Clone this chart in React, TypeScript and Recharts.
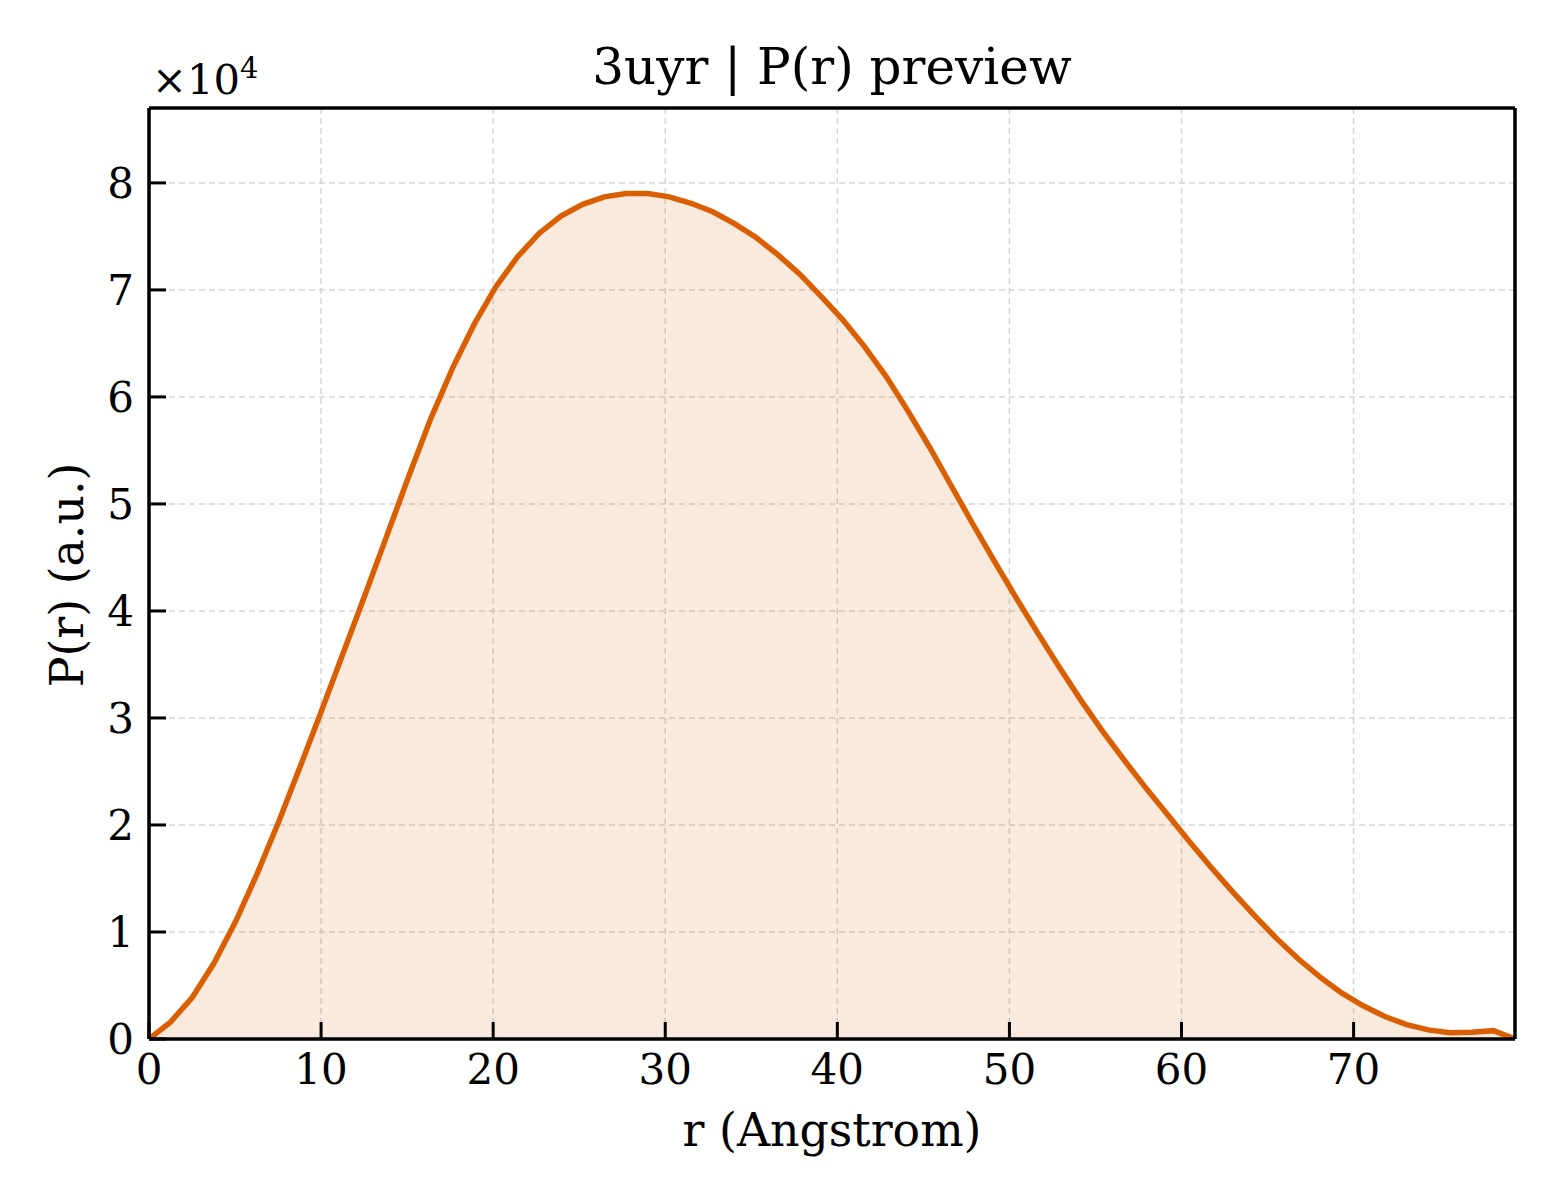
import React from "react";
import { ComposedChart, Area, XAxis, YAxis, CartesianGrid, Customized } from "recharts";

// r values (Angstrom) and P(r)
const rValues = [
  0, 1.26, 2.52, 3.78, 5.04, 6.3, 7.56, 8.82, 10.08, 11.34, 12.6, 13.86, 15.12, 16.38, 17.64, 18.9,
  20.16, 21.42, 22.68, 23.94, 25.2, 26.46, 27.72, 28.98, 30.24, 31.5, 32.76, 34.02, 35.28, 36.54, 37.8,
  39.06, 40.32, 41.58, 42.84, 44.1, 45.36, 46.62, 47.88, 49.14, 50.4, 51.66, 52.92, 54.18, 55.44, 56.7,
  57.96, 59.22, 60.48, 61.74, 63.0, 64.26, 65.52, 66.78, 68.04, 69.3, 70.56, 71.82, 73.08, 74.34, 75.6,
  76.86, 78.12, 79.38,
];

const prValues = [
  0, 1600, 3900, 7100, 11000, 15500, 20400, 25600, 30900, 36300,
  41700, 47200, 52700, 58000, 62700, 66800, 70300, 73100, 75300, 76900,
  78000, 78700, 79000, 79000, 78700, 78100, 77300, 76200, 74900, 73300,
  71500, 69400, 67200, 64700, 61900, 58700, 55300, 51700, 48100, 44600,
  41200, 37900, 34700, 31600, 28700, 26000, 23400, 20900, 18400, 16000,
  13700, 11500, 9400, 7500, 5800, 4300, 3100, 2100, 1350, 850,
  580, 630, 780, 0,
];

const xTicks = [0, 10, 20, 30, 40, 50, 60, 70];
const yTicks = [0, 10000, 20000, 30000, 40000, 50000, 60000, 70000, 80000];

const data = rValues.map((r, i) => ({ r, p: prValues[i] }));

const FONT = "'DejaVu Serif', serif";
const LINE = "#d95f02";

const tickStyle = { fontFamily: FONT, fontSize: 42, fill: "#000" };
const frame = { stroke: "#000", strokeWidth: 3.5 };
const tickMark = { stroke: "#000", strokeWidth: 3 };

function Texts() {
  return (
    <g fontFamily={FONT} fill="#000">
      <text x={832} y={84} fontSize={50} textAnchor="middle">3uyr | P(r) preview</text>
      <text x={832} y={1146} fontSize={45.8} textAnchor="middle">r (Angstrom)</text>
      <text x={83} y={575} fontSize={45.8} textAnchor="middle" transform="rotate(-90 83 575)">P(r) (a.u.)</text>
      <text x={152} y={94} fontSize={41.7}>
        ×10<tspan fontSize={29} dy={-16}>4</tspan>
      </text>
    </g>
  );
}

export default function App() {
  return (
    <div style={{ position: "absolute", left: 0, top: 0, width: 1560, height: 1200, background: "#fff" }}>
      <ComposedChart
        width={1560}
        height={1200}
        data={data}
        margin={{ top: 107, right: 44, bottom: 160, left: 148 }}
      >
        <CartesianGrid stroke="#d6d6d6" strokeDasharray="6 4" strokeWidth={1.5} />
        <Area
          type="linear"
          dataKey="p"
          stroke={LINE}
          strokeWidth={5.5}
          fill={LINE}
          fillOpacity={0.13}
          dot={false}
          activeDot={false}
          isAnimationActive={false}
        />
        <XAxis
          dataKey="r"
          type="number"
          domain={[0, 79.38]}
          ticks={xTicks}
          allowDataOverflow
          height={1}
          tick={tickStyle}
          tickSize={-17}
          tickMargin={32}
          tickLine={tickMark}
          axisLine={frame}
        />
        <XAxis
          xAxisId="top"
          orientation="top"
          dataKey="r"
          type="number"
          domain={[0, 79.38]}
          height={1}
          tick={false}
          tickLine={false}
          axisLine={frame}
        />
        <YAxis
          type="number"
          domain={[0, 87000]}
          ticks={yTicks}
          allowDataOverflow
          width={1}
          tick={tickStyle}
          tickSize={-17}
          tickMargin={32}
          tickFormatter={(v: number) => `${v / 10000}`}
          tickLine={tickMark}
          axisLine={frame}
        />
        <YAxis
          yAxisId="right"
          orientation="right"
          type="number"
          domain={[0, 87000]}
          width={1}
          tick={false}
          tickLine={false}
          axisLine={frame}
        />
        <Customized component={Texts} />
      </ComposedChart>
    </div>
  );
}
